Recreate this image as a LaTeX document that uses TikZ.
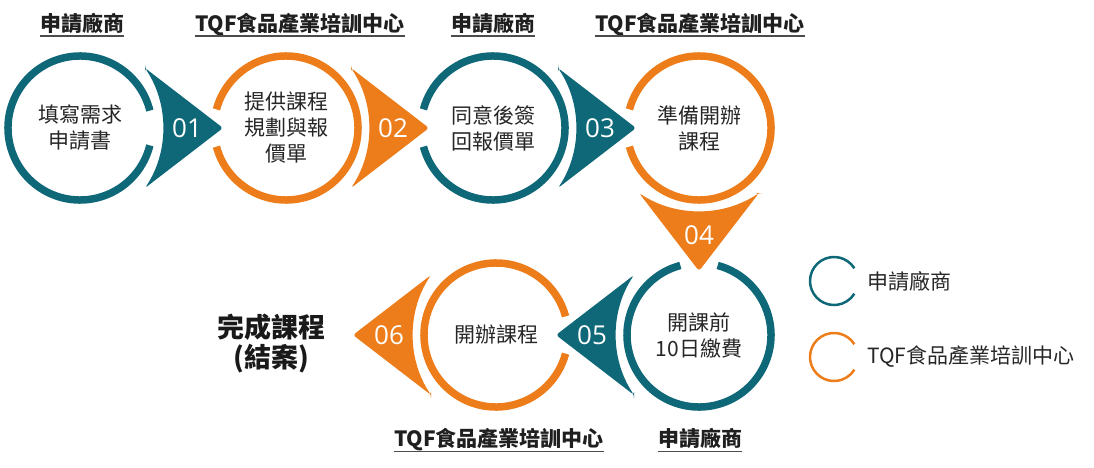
\documentclass[tikz,border=0pt]{standalone}
\usepackage{fontspec}
\setmainfont{Open Sans}
\newfontfamily\cjk{Noto Sans CJK TC}
\newfontfamily\numf{Open Sans}
\definecolor{tealc}{RGB}{14,104,120}
\definecolor{orngc}{RGB}{237,125,26}
\definecolor{txtc}{RGB}{38,38,38}
\newcommand\steparrow[4]{%
  \begin{scope}[shift={(#1)}, rotate=#2]
    \fill[#3, rounded corners=3pt] (65,60) -- (143,0) -- (65,-60)
      arc[start angle=-33.4, end angle=33.4, radius=109] -- cycle;
    \node[numtxt] at (107,0) {#4};
  \end{scope}}
\begin{document}
\begin{tikzpicture}[x=1pt,y=1pt,
  ring/.style={line width=7.5pt},
  ctext/.style={font=\cjk\fontsize{21}{26}\selectfont, text=txtc, align=center, inner sep=0pt},
  hdr/.style={font=\cjk\bfseries\fontsize{21}{25}\selectfont, text=black!88, anchor=base, inner sep=0pt},
  numtxt/.style={font=\numf\fontsize{26}{30}\selectfont, text=white, inner sep=0pt},
  uline/.style={draw=black!70, line width=1.6pt},
  legring/.style={line width=2.5pt},
  legtext/.style={font=\cjk\fontsize{21}{25}\selectfont, text=txtc, anchor=west, inner sep=0pt}
]
\useasboundingbox (0,0) rectangle (1094,467);

% step circles (text nodes)
\node[ctext] (c1) at (80,339) {填寫需求\\申請書};
\node[ctext] (c2) at (286,339) {提供課程\\規劃與報\\價單};
\node[ctext] (c3) at (493,339) {同意後簽\\回報價單};
\node[ctext] (c4) at (699,339) {準備開辦\\課程};
\node[ctext] (c5) at (699,132) {開課前\\10日繳費};
\node[ctext] (c6) at (496,132) {開辦課程};

% rings
\draw[ring, tealc] ([shift={(14:72)}]c1.center) arc[start angle=14, end angle=346, radius=72];
\draw[ring, orngc] ([shift={(195:72)}]c2.center) arc[start angle=195, end angle=525, radius=72];
\draw[ring, tealc] ([shift={(195:72)}]c3.center) arc[start angle=195, end angle=525, radius=72];
\draw[ring, orngc] ([shift={(195:72)}]c4.center) arc[start angle=195, end angle=525, radius=72];
\draw[ring, tealc] ([shift={(105:72)}]c5.center) arc[start angle=105, end angle=435, radius=72];
\draw[ring, orngc] ([shift={(15:72)}]c6.center) arc[start angle=15, end angle=345, radius=72];

% arrows
\steparrow{c1.center}{0}{tealc}{01}
\steparrow{c2.center}{0}{orngc}{02}
\steparrow{c3.center}{0}{tealc}{03}
\steparrow{c4.center}{-90}{orngc}{04}
\steparrow{c5.center}{180}{tealc}{05}
\steparrow{c6.center}{180}{orngc}{06}

% final
\node[font=\cjk\bfseries\fontsize{27}{30}\selectfont, text=black!90, align=center, inner sep=0pt] (done) at (271,124) {完成課程\\(結案)};

% headers
\node[hdr] (h1) at (82,435.5) {申請廠商};
\node[hdr] (h2) at (300,435.5) {TQF食品產業培訓中心};
\node[hdr] (h3) at (493,435.5) {申請廠商};
\node[hdr] (h4) at (700,435.5) {TQF食品產業培訓中心};
\node[hdr] (h5) at (499,20.5) {TQF食品產業培訓中心};
\node[hdr] (h6) at (700,20.5) {申請廠商};
\foreach \h in {h1,h2,h3,h4,h5,h6}
  \draw[uline] ([yshift=-4.8pt]\h.base west) -- ([yshift=-4.8pt]\h.base east);

% legend
\coordinate (l1) at (834,186);
\coordinate (l2) at (834,110);
\draw[legring, tealc] ([shift={(32:24)}]l1) arc[start angle=32, end angle=328, radius=24];
\draw[legring, orngc] ([shift={(32:24)}]l2) arc[start angle=32, end angle=328, radius=24];
\node[legtext] (t1) at (867,186) {申請廠商};
\node[legtext] (t2) at (867,110) {TQF食品產業培訓中心};
\end{tikzpicture}
\end{document}
